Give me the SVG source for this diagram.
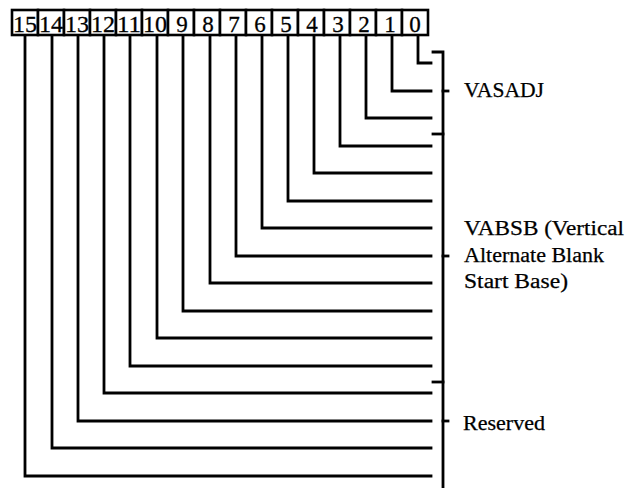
<svg xmlns="http://www.w3.org/2000/svg" width="630" height="488" viewBox="0 0 630 488">
<style>
.box{fill:#fff;stroke:#000;stroke-width:2.6}
.num{font-family:"Liberation Serif",serif;font-size:23px;text-anchor:middle;fill:#000;stroke:#000;stroke-width:0.3}
.w{fill:none;stroke:#000;stroke-width:2.8;stroke-linejoin:miter;stroke-linecap:square}
.lbl{font-family:"Liberation Serif",serif;font-size:20.5px;fill:#000;stroke:#000;stroke-width:0.25}
</style>
<g id="bits">
<g id="bit15"><rect class="box" x="12" y="10" width="26" height="25"/><text class="num" x="25" y="32" textLength="24" lengthAdjust="spacingAndGlyphs">15</text></g>
<g id="bit14"><rect class="box" x="38" y="10" width="26" height="25"/><text class="num" x="51" y="32" textLength="24" lengthAdjust="spacingAndGlyphs">14</text></g>
<g id="bit13"><rect class="box" x="64" y="10" width="26" height="25"/><text class="num" x="77" y="32" textLength="24" lengthAdjust="spacingAndGlyphs">13</text></g>
<g id="bit12"><rect class="box" x="90" y="10" width="26" height="25"/><text class="num" x="103" y="32" textLength="24" lengthAdjust="spacingAndGlyphs">12</text></g>
<g id="bit11"><rect class="box" x="116" y="10" width="26" height="25"/><text class="num" x="129" y="32" textLength="24" lengthAdjust="spacingAndGlyphs">11</text></g>
<g id="bit10"><rect class="box" x="142" y="10" width="26" height="25"/><text class="num" x="155" y="32" textLength="24" lengthAdjust="spacingAndGlyphs">10</text></g>
<g id="bit9"><rect class="box" x="168" y="10" width="26" height="25"/><text class="num" x="182" y="32">9</text></g>
<g id="bit8"><rect class="box" x="194" y="10" width="26" height="25"/><text class="num" x="208" y="32">8</text></g>
<g id="bit7"><rect class="box" x="220" y="10" width="26" height="25"/><text class="num" x="234" y="32">7</text></g>
<g id="bit6"><rect class="box" x="246" y="10" width="26" height="25"/><text class="num" x="260" y="32">6</text></g>
<g id="bit5"><rect class="box" x="272" y="10" width="26" height="25"/><text class="num" x="286" y="32">5</text></g>
<g id="bit4"><rect class="box" x="298" y="10" width="26" height="25"/><text class="num" x="312" y="32">4</text></g>
<g id="bit3"><rect class="box" x="324" y="10" width="26" height="25"/><text class="num" x="338" y="32">3</text></g>
<g id="bit2"><rect class="box" x="350" y="10" width="26" height="25"/><text class="num" x="364" y="32">2</text></g>
<g id="bit1"><rect class="box" x="376" y="10" width="26" height="25"/><text class="num" x="390" y="32">1</text></g>
<g id="bit0"><rect class="box" x="402" y="10" width="26" height="25"/><text class="num" x="415" y="32">0</text></g>
</g>
<g id="connectors">
<path class="w" d="M418 36V63H431"/>
<path class="w" d="M392 36V91H431"/>
<path class="w" d="M366 36V118H431"/>
<path class="w" d="M340 36V146H431"/>
<path class="w" d="M314 36V173H431"/>
<path class="w" d="M288 36V201H431"/>
<path class="w" d="M262 36V228H431"/>
<path class="w" d="M236 36V256H431"/>
<path class="w" d="M210 36V283H431"/>
<path class="w" d="M183 36V311H431"/>
<path class="w" d="M157 36V338H431"/>
<path class="w" d="M130 36V366H431"/>
<path class="w" d="M104 36V393H431"/>
<path class="w" d="M78 36V421H431"/>
<path class="w" d="M52 36V448H431"/>
<path class="w" d="M25 36V476H431"/>
<g id="bracket">
<path class="w" d="M433 52H443V490"/>
<path class="w" d="M433 134H443"/>
<path class="w" d="M433 382H443"/>
<path class="w" d="M443 91H448"/>
<path class="w" d="M443 256H448"/>
<path class="w" d="M443 421H448"/>
</g>
</g>
<g id="label-vasadj"><text class="lbl" x="464" y="97" textLength="80" lengthAdjust="spacingAndGlyphs">VASADJ</text></g>
<g id="label-vabsb">
<text class="lbl" x="464" y="235" textLength="160" lengthAdjust="spacingAndGlyphs">VABSB (Vertical</text>
<text class="lbl" x="464" y="262" textLength="140" lengthAdjust="spacingAndGlyphs">Alternate Blank</text>
<text class="lbl" x="464" y="288" textLength="104" lengthAdjust="spacingAndGlyphs">Start Base)</text>
</g>
<g id="label-reserved"><text class="lbl" x="463" y="430" textLength="82" lengthAdjust="spacingAndGlyphs">Reserved</text></g>
</svg>
